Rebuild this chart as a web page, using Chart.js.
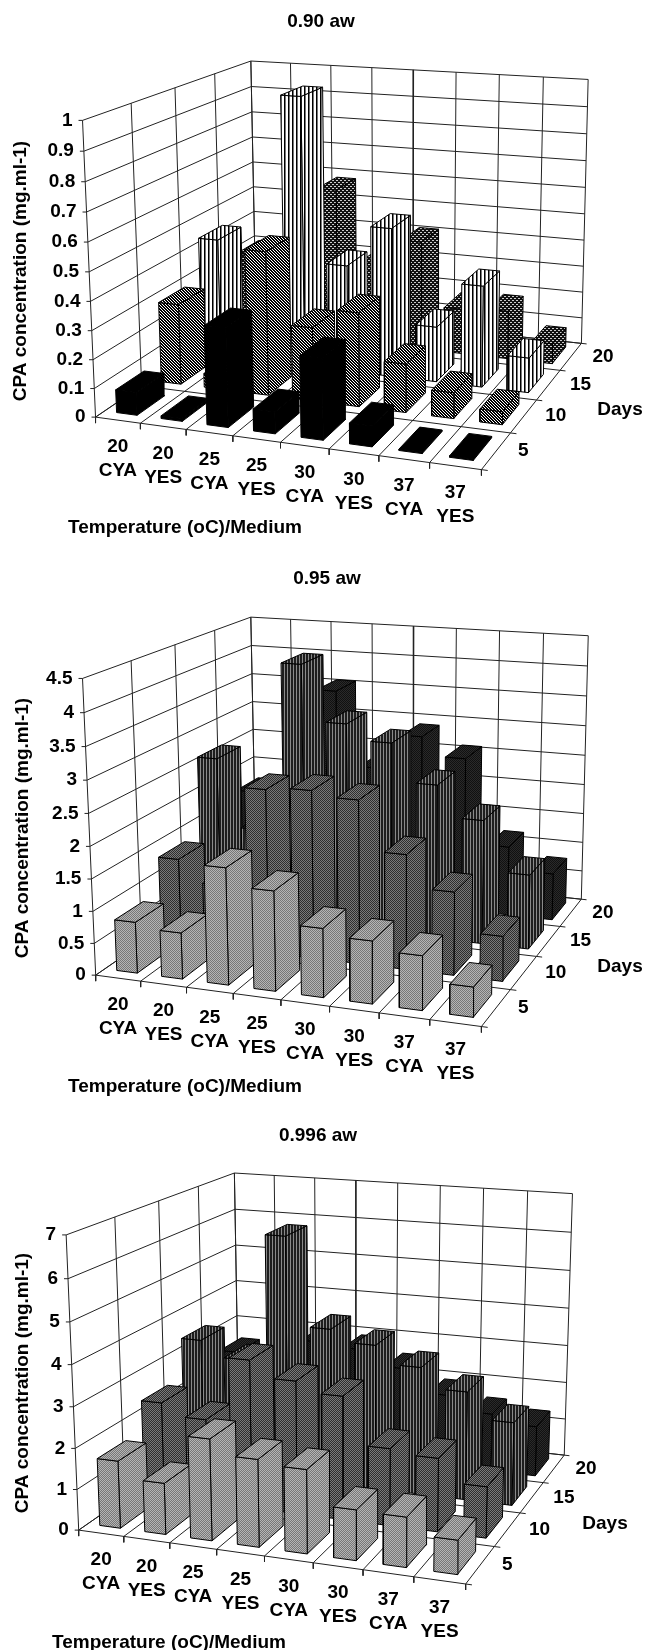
<!DOCTYPE html>
<html>
<head>
<meta charset="utf-8">
<title>CPA concentration</title>
<script src="https://cdn.jsdelivr.net/npm/chart.js@4/dist/chart.umd.min.js"></script>
<style>
  html, body { margin: 0; padding: 0; background: #fff; }
  #page { position: relative; width: 645px; height: 1650px; overflow: hidden; }
  canvas { position: absolute; left: 0; }
</style>
</head>
<body>
<div id="page">
  <canvas id="c1"></canvas>
  <canvas id="c2"></canvas>
  <canvas id="c3"></canvas>
</div>
<script>
// ---- data ----
const tempLabels = ['20', '20', '25', '25', '30', '30', '37', '37'];
const mediumLabels = ['CYA', 'YES', 'CYA', 'YES', 'CYA', 'YES', 'CYA', 'YES'];
const dayLabels = ['5', '10', '15', '20'];

const ticks090 = ['0', '0.1', '0.2', '0.3', '0.4', '0.5', '0.6', '0.7', '0.8', '0.9', '1'];
const ticks095 = ['0', '0.5', '1', '1.5', '2', '2.5', '3', '3.5', '4', '4.5'];
const ticks0996 = ['0', '1', '2', '3', '4', '5', '6', '7'];

const aw090day5 = [0.08, 0.01, 0.34, 0.075, 0.275, 0.07, 0.005, 0.005];
const aw090day10 = [0.29, 0.05, 0.51, 0.26, 0.33, 0.17, 0.09, 0.045];
const aw090day15 = [0.44, 0.05, 0.985, 0.39, 0.54, 0.2, 0.365, 0.125];
const aw090day20 = [0.3, 0.2, 0.58, 0.31, 0.41, 0.17, 0.18, 0.075];

const aw095day5 = [0.8, 0.72, 1.8, 1.53, 1.05, 0.95, 0.82, 0.45];
const aw095day10 = [1.35, 1.0, 2.6, 2.65, 2.57, 1.8, 1.3, 0.7];
const aw095day15 = [2.62, 1.5, 4.26, 3.36, 3.11, 2.5, 2.0, 1.2];
const aw095day20 = [1.7, 1.0, 3.55, 2.3, 2.89, 2.58, 1.16, 0.78];

const aw0996day5 = [1.65, 1.25, 2.45, 2.1, 2.0, 1.2, 1.18, 0.8];
const aw0996day10 = [2.4, 2.1, 3.7, 3.3, 3.05, 1.9, 1.8, 1.25];
const aw0996day15 = [3.4, 3.0, 6.25, 4.0, 3.7, 3.25, 2.75, 2.1];
const aw0996day20 = [2.5, 2.0, 3.0, 2.9, 2.5, 1.9, 1.52, 1.31];

const FONT = 'bold 19px "Liberation Sans", Arial, sans-serif';
const BAR_W = 0.46;
const BAR_D = 0.62;

// ---- fill patterns ----
function tile(w, h, draw) {
  const c = document.createElement('canvas');
  c.width = w; c.height = h;
  const g = c.getContext('2d');
  draw(g);
  return g.createPattern(c, 'repeat');
}
function checker(a, b) {
  return tile(2, 2, g => {
    g.fillStyle = a; g.fillRect(0, 0, 2, 2);
    g.fillStyle = b; g.fillRect(0, 0, 1, 1); g.fillRect(1, 1, 1, 1);
  });
}
function stripes(a, b, n, m) {
  return tile(n + m, 1, g => {
    g.fillStyle = a; g.fillRect(0, 0, n, 1);
    g.fillStyle = b; g.fillRect(n, 0, m, 1);
  });
}
const hatch = tile(3, 3, g => {
  g.fillStyle = '#fff'; g.fillRect(0, 0, 3, 3);
  g.fillStyle = '#000';
  for (let i = 0; i < 3; i++) { g.fillRect(i, i, 1, 1); g.fillRect((i + 1) % 3, i, 1, 1); }
});
const dots = tile(4, 4, g => {
  g.fillStyle = '#111'; g.fillRect(0, 0, 4, 4);
  g.fillStyle = '#ccc';
  g.fillRect(0, 0, 2, 1); g.fillRect(2, 2, 2, 1);
});
const vstripes = tile(4, 1, g => {
  g.fillStyle = '#fff'; g.fillRect(0, 0, 4, 1);
  g.fillStyle = '#000'; g.fillRect(0, 0, 1, 1);
  g.fillStyle = '#777'; g.fillRect(1, 0, 1, 1);
});

const bwFills = ['#000', hatch, vstripes, dots];
const greyFills = [checker('#777', '#b5b5b5'), checker('#2e2e2e', '#7a7a7a'), stripes('#1e1e1e', '#8a8a8a', 2, 1), checker('#111', '#2a2a2a')];

// ---- camera: fit a 3x4 projection from the corners of the box, u 0..8, v 0..4, w 0..1 ----
function fitCamera(pts) {
  const A = [], B = [];
  pts.forEach(([u, v, w, x, y]) => {
    A.push([u, v, w, 1, 0, 0, 0, 0, -x * u, -x * v, -x * w]); B.push(x);
    A.push([0, 0, 0, 0, u, v, w, 1, -y * u, -y * v, -y * w]); B.push(y);
  });
  const n = 11;
  const M = [];
  for (let i = 0; i < n; i++) {
    M.push(new Array(n + 1).fill(0));
    for (let j = 0; j < n; j++) A.forEach(r => { M[i][j] += r[i] * r[j]; });
    A.forEach((r, k) => { M[i][n] += r[i] * B[k]; });
  }
  for (let i = 0; i < n; i++) {
    let p = i;
    for (let k = i + 1; k < n; k++) if (Math.abs(M[k][i]) > Math.abs(M[p][i])) p = k;
    [M[i], M[p]] = [M[p], M[i]];
    for (let k = 0; k < n; k++) {
      if (k === i) continue;
      const f = M[k][i] / M[i][i];
      for (let j = i; j <= n; j++) M[k][j] -= f * M[i][j];
    }
  }
  const p = M.map((r, i) => r[n] / r[i]);
  return (u, v, w) => {
    const d = p[8] * u + p[9] * v + p[10] * w + 1;
    return {
      x: (p[0] * u + p[1] * v + p[2] * w + p[3]) / d,
      y: (p[4] * u + p[5] * v + p[6] * w + p[7]) / d
    };
  };
}

function lineSet(points) {
  return { data: points, borderColor: '#222', borderWidth: 1, fill: false, pointRadius: 0, tension: 0, clip: false };
}
function faceSet(points, fillStyle) {
  return {
    data: points.concat([points[0]]), borderColor: '#000', borderWidth: 1,
    backgroundColor: fillStyle, fill: 'shape', pointRadius: 0, tension: 0, clip: false, borderJoinStyle: 'round'
  };
}

// label settings per canvas, kept out of chart options so the camera function isn't taken as scriptable
const labelCfg = {};

const labelPlugin = {
  id: 'labels3d',
  afterDraw(chart) {
    const o = labelCfg[chart.canvas.id];
    const ctx = chart.ctx, sx = chart.scales.x, sy = chart.scales.y;
    const text = (s, x, y, align) => {
      ctx.textAlign = align || 'center';
      ctx.fillText(s, sx.getPixelForValue(x), sy.getPixelForValue(y));
    };
    ctx.save();
    ctx.font = FONT;
    ctx.fillStyle = '#000';
    ctx.textBaseline = 'middle';
    text(o.title, o.titleAt[0], o.titleAt[1]);
    text('Temperature (oC)/Medium', o.xTitleAt[0], o.xTitleAt[1]);
    text('Days', o.daysAt[0], o.daysAt[1]);
    o.ticks.forEach((t, i) => {
      const p = o.cam(0, 0, i / (o.ticks.length - 1));
      text(t, p.x - 10, p.y, 'right');
    });
    tempLabels.forEach((t, i) => {
      const p = o.cam(i + 0.5, 0, 0);
      text(t, p.x, p.y + 27);
      text(mediumLabels[i], p.x, p.y + 51);
    });
    dayLabels.forEach((t, i) => {
      const p = o.cam(8, i + 0.5, 0);
      text(t, p.x + (i === 0 ? 27 : 32), p.y);
    });
    ctx.translate(sx.getPixelForValue(o.yTitleAt[0]), sy.getPixelForValue(o.yTitleAt[1]));
    ctx.rotate(-Math.PI / 2);
    ctx.textAlign = 'center';
    ctx.fillText('CPA concentration (mg.ml-1)', 0, 0);
    ctx.restore();
  }
};

function draw3d(id, top, height, cfg) {
  const canvas = document.getElementById(id);
  canvas.style.top = top + 'px';
  canvas.style.width = '645px';
  canvas.style.height = height + 'px';
  canvas.width = 645;
  canvas.height = height;

  const cam = fitCamera(cfg.corners);
  const nTicks = cfg.ticks.length - 1;
  const yMax = parseFloat(cfg.ticks[nTicks]);
  const sets = [];
  labelCfg[id] = Object.assign({ cam }, cfg);

  // walls and floor
  for (let i = 0; i <= nTicks; i++) {
    const w = i / nTicks;
    sets.push(lineSet([cam(0, 0, w), cam(0, 4, w), cam(8, 4, w)]));
    const a = cam(0, 0, w);
    sets.push(lineSet([{ x: a.x - 4, y: a.y }, a]));
  }
  for (let u = 0; u <= 8; u++) {
    sets.push(lineSet([cam(u, 4, 1), cam(u, 4, 0), cam(u, 0, 0)]));
    const a = cam(u, 0, 0);
    sets.push(lineSet([a, { x: a.x, y: a.y + 6 }]));
  }
  for (let v = 0; v <= 4; v++) {
    sets.push(lineSet([cam(0, v, 1), cam(0, v, 0), cam(8, v, 0)]));
    sets.push(lineSet([cam(8, v, 0), cam(8.12, v, 0)]));
  }

  // bars, far row first, left to right
  for (let d = 3; d >= 0; d--) {
    cfg.series[d].forEach((val, i) => {
      const h = val / yMax;
      const u0 = i + 0.5 - BAR_W / 2, u1 = i + 0.5 + BAR_W / 2;
      const v0 = d + 0.5 - BAR_D / 2, v1 = d + 0.5 + BAR_D / 2;
      const f = cfg.fills[d];
      sets.push(faceSet([cam(u1, v0, 0), cam(u1, v1, 0), cam(u1, v1, h), cam(u1, v0, h)], f));
      sets.push(faceSet([cam(u0, v0, 0), cam(u1, v0, 0), cam(u1, v0, h), cam(u0, v0, h)], f));
      sets.push(faceSet([cam(u0, v0, h), cam(u1, v0, h), cam(u1, v1, h), cam(u0, v1, h)], f));
    });
  }

  // chart.js paints the first dataset last
  sets.reverse();

  new Chart(canvas, {
    type: 'line',
    data: { datasets: sets },
    plugins: [labelPlugin],
    options: {
      responsive: false,
      animation: false,
      events: [],
      layout: { padding: 0 },
      scales: {
        x: { type: 'linear', min: 0, max: 645, display: false },
        y: { type: 'linear', min: top, max: top + height, reverse: true, display: false }
      },
      plugins: {
        legend: { display: false },
        tooltip: { enabled: false }
      }
    }
  });
}

draw3d('c1', 0, 545, {
  title: '0.90 aw', ticks: ticks090, fills: bwFills,
  series: [aw090day5, aw090day10, aw090day15, aw090day20],
  titleAt: [321, 22], xTitleAt: [185, 528], daysAt: [620, 410], yTitleAt: [21, 271],
  corners: [
    [0, 0, 0, 94.7, 415.7], [0, 0, 1, 83.5, 120.7], [0, 4, 0, 257, 310], [0, 4, 1, 249.8, 60.3],
    [8, 4, 0, 581, 341.7], [8, 4, 1, 588.5, 80], [8, 0, 0, 481.5, 471], [0, 0, 0.5, 89, 271.7]
  ]
});
draw3d('c2', 545, 555, {
  title: '0.95 aw', ticks: ticks095, fills: greyFills,
  series: [aw095day5, aw095day10, aw095day15, aw095day20],
  titleAt: [327, 579], xTitleAt: [185, 1087], daysAt: [620, 967], yTitleAt: [23, 828],
  corners: [
    [0, 0, 0, 94.7, 974], [0, 0, 1, 83.5, 678.3], [0, 4, 0, 257, 865.7], [0, 4, 1, 249.8, 616.7],
    [8, 4, 0, 581, 898.3], [8, 4, 1, 588.5, 636], [8, 0, 0, 481.5, 1027.3], [0, 0, 0.5556, 88.5, 814]
  ]
});
draw3d('c3', 1100, 550, {
  title: '0.996 aw', ticks: ticks0996, fills: greyFills,
  series: [aw0996day5, aw0996day10, aw0996day15, aw0996day20],
  titleAt: [318, 1136], xTitleAt: [169, 1643], daysAt: [605, 1524], yTitleAt: [23, 1383],
  corners: [
    [0, 0, 0, 78.2, 1531], [0, 0, 1, 66.7, 1235.3], [0, 4, 0, 239.5, 1418], [0, 4, 1, 233.7, 1173.3],
    [8, 4, 0, 563.8, 1456], [8, 4, 1, 572.8, 1193.3], [8, 0, 0, 465.8, 1583.3], [0, 0, 0.5714, 71.5, 1364]
  ]
});
</script>
</body>
</html>
